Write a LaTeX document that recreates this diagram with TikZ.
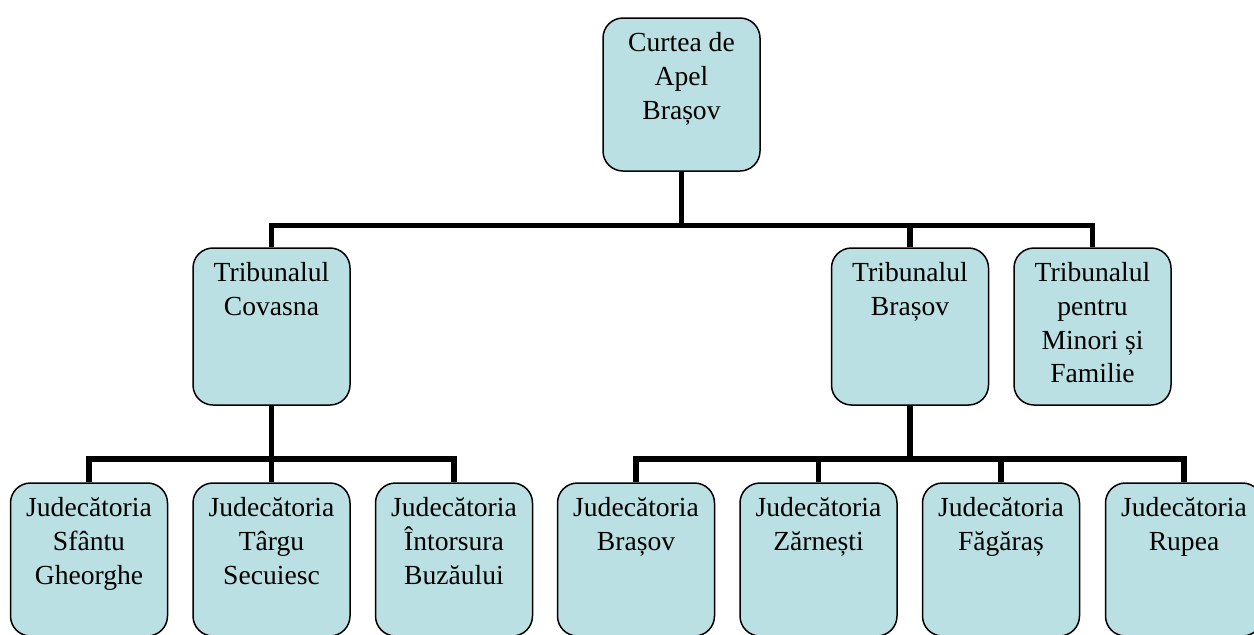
\documentclass[tikz,border=0pt]{standalone}
\usepackage{fontspec}
\setmainfont{Liberation Serif}
\usepackage{xcolor}
\usepackage{tikz}
\definecolor{courtblue}{RGB}{187,224,227}
\tikzstyle{court}=[draw,line width=.75pt,rounded corners=10pt,fill=courtblue,minimum width=78.5pt,inner sep=0pt]
\tikzstyle{courtlow}=[court,minimum height=76.5pt]
\tikzstyle{courtmid}=[court,minimum height=78.5pt]
\tikzstyle{courtlbl}=[anchor=north,yshift=-7.5pt,inner sep=0pt,align=center,font=\fontsize{13.8pt}{16.8pt}\selectfont,execute at begin node={\rule{0pt}{12.5pt}}]
\tikzstyle{tie}=[line width=2.75pt]

\begin{document}
\begin{tikzpicture}[x=.5pt,y=-.5pt]
	\useasboundingbox (0,0) rectangle (1254,634);
	\coordinate (topbus) at (0,225.5);
	\coordinate (lowbus) at (0,459);
	\node[courtlow,label={[courtlbl]north:{Curtea de\\Apel\\Brașov}}] (apel) at (681.5,94.5) {};
	\node[courtmid,label={[courtlbl]north:{Tribunalul\\Covasna}}] (covasna) at (271.5,326.5) {};
	\node[courtmid,label={[courtlbl]north:{Tribunalul\\Brașov}}] (tbv) at (910,326.5) {};
	\node[courtmid,label={[courtlbl]north:{Tribunalul\\pentru\\Minori și\\Familie}}] (minori) at (1092.5,326.5) {};
	\node[courtlow,label={[courtlbl]north:{Judecătoria\\Sfântu\\Gheorghe}}] (sfantu) at (89,559.5) {};
	\node[courtlow,label={[courtlbl]north:{Judecătoria\\Târgu\\Secuiesc}}] (targu) at (271.5,559.5) {};
	\node[courtlow,label={[courtlbl]north:{Judecătoria\\Întorsura\\Buzăului}}] (intorsura) at (454,559.5) {};
	\node[courtlow,label={[courtlbl]north:{Judecătoria\\Brașov}}] (jbv) at (636,559.5) {};
	\node[courtlow,label={[courtlbl]north:{Judecătoria\\Zărnești}}] (zarnesti) at (818.5,559.5) {};
	\node[courtlow,label={[courtlbl]north:{Judecătoria\\Făgăraș}}] (fagaras) at (1001,559.5) {};
	\node[courtlow,label={[courtlbl]north:{Judecătoria\\Rupea}}] (rupea) at (1184,559.5) {};
	\draw[tie] (apel.south) -- (apel.south |- topbus) -| (covasna.north);
	\draw[tie] (apel.south) -- (apel.south |- topbus) -| (tbv.north);
	\draw[tie] (apel.south) -- (apel.south |- topbus) -| (minori.north);
	\draw[tie] (covasna.south) -- (covasna.south |- lowbus) -| (sfantu.north);
	\draw[tie] (covasna.south) -- (targu.north);
	\draw[tie] (covasna.south) -- (covasna.south |- lowbus) -| (intorsura.north);
	\draw[tie] (tbv.south) -- (tbv.south |- lowbus) -| (jbv.north);
	\draw[tie] (tbv.south) -- (tbv.south |- lowbus) -| (zarnesti.north);
	\draw[tie] (tbv.south) -- (tbv.south |- lowbus) -| (fagaras.north);
	\draw[tie] (tbv.south) -- (tbv.south |- lowbus) -| (rupea.north);
\end{tikzpicture}
\end{document}
